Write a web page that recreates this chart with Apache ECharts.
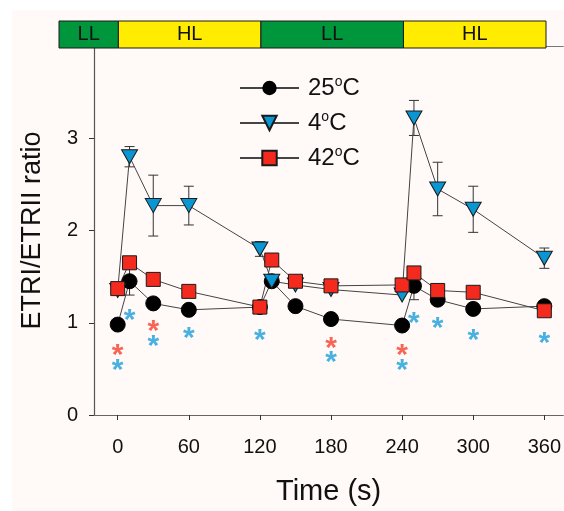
<!DOCTYPE html>
<html>
<head>
<meta charset="utf-8">
<script src="https://cdn.jsdelivr.net/npm/echarts@6/dist/echarts.min.js"></script>
<style>
html, body { margin: 0; padding: 0; background: #fff; }
#chart { width: 564px; height: 511px; }
</style>
</head>
<body>
<div id="chart"></div>
<script>
// sampling times (s)
const times = [0, 10, 30, 60, 120, 130, 150, 180, 240, 250, 270, 300, 360];
const ratio25 = [0.98, 1.45, 1.21, 1.14, 1.17, 1.45, 1.18, 1.04, 0.97, 1.40, 1.25, 1.15, 1.18];
const ratio4  = [1.35, 2.80, 2.27, 2.27, 1.80, 1.45, 1.41, 1.36, 1.30, 3.22, 2.45, 2.23, 1.70];
const ratio42 = [1.37, 1.65, 1.47, 1.34, 1.17, 1.68, 1.45, 1.40, 1.41, 1.54, 1.35, 1.33, 1.13];
const err25 = [0, 0.15, 0, 0, 0, 0, 0, 0, 0, 0.15, 0, 0, 0];
const err4  = [0, 0.11, 0.33, 0.21, 0.08, 0, 0, 0, 0, 0.19, 0.29, 0.25, 0.11];
const seriesNames = ['25°C', '4°C', '42°C'];
const xTicks = [0, 60, 120, 180, 240, 300, 360];
const yTicks = [0, 1, 2, 3];
// light phases on top bar
const phaseStart = [-50, 0, 120, 240];
const phaseEnd = [0, 120, 240, 360];
const phaseLabel = ['LL', 'HL', 'LL', 'HL'];
// significance marks
const redStars = [[0, 0.73], [30, 0.99], [180, 0.81], [240, 0.73]];
const blueStars = [[0, 0.57], [10, 1.11], [30, 0.83], [60, 0.91], [120, 0.89], [180, 0.65],
                   [240, 0.57], [250, 1.08], [270, 1.02], [300, 0.89], [360, 0.86]];

const font = 'Liberation Sans, Arial, sans-serif';
const lineCol = '#444';
const phaseColor = { LL: '#00963c', HL: '#ffec00' };

function pts(vals) {
  return times.map((t, i) => [t, vals[i]]);
}

function errorSeries(vals, errs) {
  return {
    type: 'custom',
    z: 1,
    silent: true,
    data: times.map((t, i) => [t, vals[i], errs[i]]).filter(d => d[2] > 0),
    renderItem(params, api) {
      const x = api.value(0), v = api.value(1), e = api.value(2);
      const hi = api.coord([x, v + e]);
      const lo = api.coord([x, v - e]);
      const w = 5;
      const st = { stroke: '#333', lineWidth: 1 };
      return {
        type: 'group',
        children: [
          { type: 'line', shape: { x1: hi[0], y1: hi[1], x2: lo[0], y2: lo[1] }, style: st },
          { type: 'line', shape: { x1: hi[0] - w, y1: hi[1], x2: hi[0] + w, y2: hi[1] }, style: st },
          { type: 'line', shape: { x1: lo[0] - w, y1: lo[1], x2: lo[0] + w, y2: lo[1] }, style: st }
        ]
      };
    }
  };
}

function starSeries(data, color) {
  return {
    type: 'scatter',
    data: data,
    symbolSize: 1,
    itemStyle: { color: 'transparent' },
    silent: true,
    z: 5,
    label: {
      show: true, position: 'inside', formatter: '*',
      color: color, fontSize: 30, fontWeight: 'bold', fontFamily: font, offset: [0, 8]
    }
  };
}

const chart = echarts.init(document.getElementById('chart'));

chart.setOption({
  animation: false,
  backgroundColor: '#fff',
  graphic: [{
    type: 'rect', z: -10, silent: true,
    shape: { x: 12, y: 10, width: 552, height: 501 },
    style: { fill: '#fffaf8' }
  }],
  legend: {
    orient: 'vertical',
    left: 234, top: 70,
    itemWidth: 59, itemHeight: 18,
    itemGap: 9,
    data: seriesNames,
    formatter: name => '{n|' + name.replace('°C', '') + '}{s|o}{n|C}',
    textStyle: {
      padding: [0, 0, 0, 4],
      rich: {
        n: { fontSize: 24, fontFamily: font, color: '#111', lineHeight: 26 },
        s: { fontSize: 14, fontFamily: font, color: '#111', verticalAlign: 'top', lineHeight: 26, padding: [0, 0, 12, 0] }
      }
    }
  },
  grid: [
    { left: 94, right: 0, top: 46, bottom: 93 },
    { left: 59, right: 18, top: 21, height: 27 }
  ],
  xAxis: [
    {
      type: 'value', gridIndex: 0, min: -20, max: 376,
      name: 'Time (s)', nameLocation: 'middle', nameGap: 62,
      nameTextStyle: { fontSize: 29, fontFamily: font, color: '#111' },
      axisLine: { onZero: false, lineStyle: { color: '#666', width: 1.2 } },
      axisTick: { show: true, length: 5, customValues: xTicks, lineStyle: { color: '#333' } },
      axisLabel: { customValues: xTicks, margin: 22, fontSize: 20, fontFamily: font, color: '#111' },
      splitLine: { show: false }
    },
    {
      type: 'value', gridIndex: 1, min: -50, max: 360, show: false
    },
    {
      type: 'value', gridIndex: 0, position: 'top', min: -20, max: 376,
      axisLine: { show: true, onZero: false, lineStyle: { color: '#777', width: 1.2 } },
      axisTick: { show: false }, axisLabel: { show: false }, splitLine: { show: false }
    }
  ],
  yAxis: [
    {
      type: 'value', gridIndex: 0, min: 0, max: 4,
      name: 'ETRI/ETRII ratio', nameLocation: 'middle', nameGap: 48,
      nameTextStyle: { fontSize: 27, fontFamily: font, color: '#111' },
      axisLine: { show: true, onZero: false, lineStyle: { color: '#555', width: 1.2 } },
      axisTick: { show: true, length: 5, customValues: yTicks, lineStyle: { color: '#333' } },
      axisLabel: { customValues: yTicks, margin: 16, fontSize: 20, fontFamily: font, color: '#111' },
      splitLine: { show: false }
    },
    { type: 'value', gridIndex: 1, min: 0, max: 1, show: false }
  ],
  series: [
    {
      type: 'custom', xAxisIndex: 1, yAxisIndex: 1, silent: true,
      data: phaseLabel.map((l, i) => [phaseStart[i], phaseEnd[i]]),
      renderItem(params, api) {
        const a = api.coord([api.value(0), 0]);
        const b = api.coord([api.value(1), 1]);
        const lab = phaseLabel[params.dataIndex];
        return {
          type: 'rect',
          shape: { x: a[0], y: b[1], width: b[0] - a[0], height: a[1] - b[1] },
          style: { fill: phaseColor[lab], stroke: '#1a1a1a', lineWidth: 1 },
          textContent: { style: { text: lab, fontSize: 20, fontFamily: font, fill: '#111' } },
          textConfig: { position: 'inside' }
        };
      }
    },
    errorSeries(ratio25, err25),
    errorSeries(ratio4, err4),
    {
      name: seriesNames[0], type: 'line', data: pts(ratio25),
      symbol: 'circle', symbolSize: 15,
      itemStyle: { color: '#000', borderColor: '#000' },
      lineStyle: { color: lineCol, width: 1 }
    },
    {
      name: seriesNames[1], type: 'line', data: pts(ratio4),
      symbol: 'triangle', symbolRotate: 180, symbolSize: [16, 14],
      itemStyle: { color: '#0a96d2', borderColor: '#1a1a1a', borderWidth: 1 },
      lineStyle: { color: lineCol, width: 1 }
    },
    {
      name: seriesNames[2], type: 'line', data: pts(ratio42),
      symbol: 'rect', symbolSize: 14,
      itemStyle: { color: '#f52a1e', borderColor: '#1a1a1a', borderWidth: 1 },
      lineStyle: { color: lineCol, width: 1 }
    },
    starSeries(redStars, '#f5402d'),
    starSeries(blueStars, '#1a9fd9')
  ]
});
</script>
</body>
</html>
